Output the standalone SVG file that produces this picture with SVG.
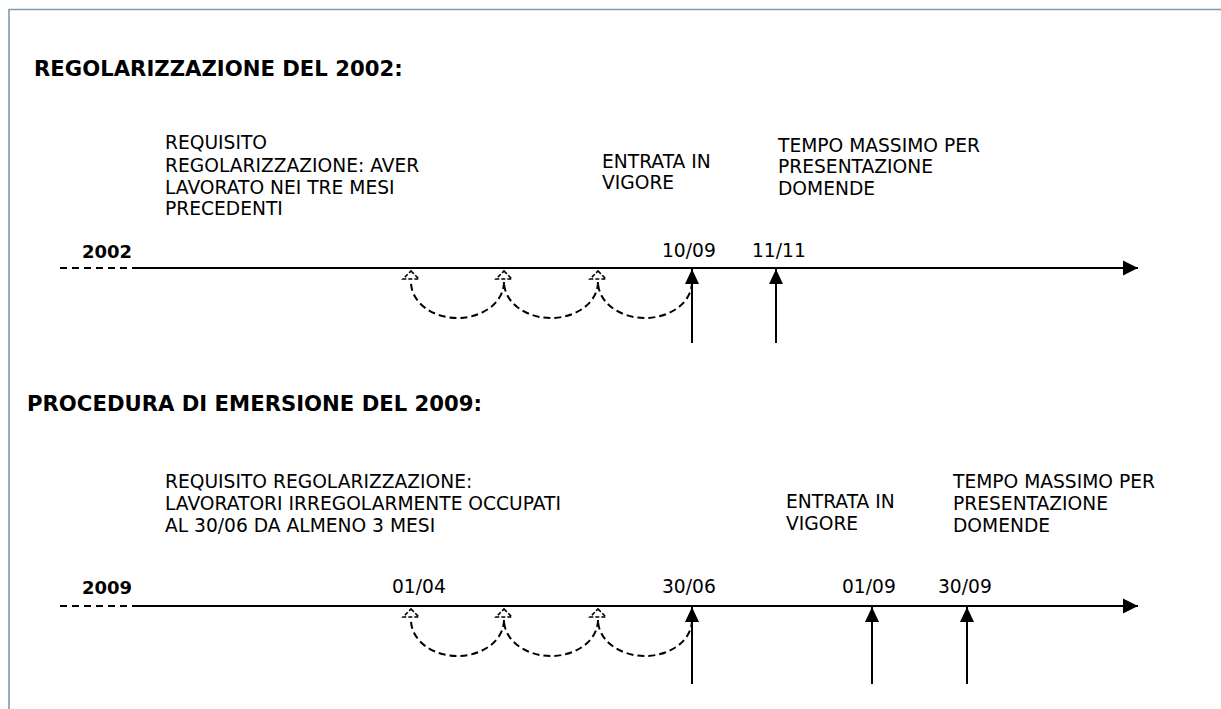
<svg xmlns="http://www.w3.org/2000/svg" width="1221" height="709" viewBox="0 0 1221 709">
  <style>
    .t { font-family: "DejaVu Sans", Verdana, sans-serif; font-size: 18.67px; fill: #000; }
    .b { font-family: "DejaVu Sans", Verdana, sans-serif; font-weight: bold; fill: #000; }
    .title { font-size: 21.2px; }
    .year { font-size: 18px; }
    .axis { stroke: #000; stroke-width: 2; fill: none; }
    .dash { stroke: #000; stroke-width: 2; fill: none; stroke-dasharray: 7 5; }
    .arc { stroke: #000; stroke-width: 2; fill: none; stroke-dasharray: 7 4; }
    .vert { stroke: #000; stroke-width: 2; fill: none; }
    .ohead { fill: #fff; stroke: #000; stroke-width: 1.6; stroke-dasharray: 4 2; }
  </style>
  <defs>
    <marker id="arrowR" markerUnits="userSpaceOnUse" markerWidth="16" markerHeight="16" viewBox="0 0 16 16" refX="15" refY="8" orient="auto">
      <path d="M0,0.5 L15,8 L0,15.5 Z" fill="#000"/>
    </marker>
    <marker id="arrowU" markerUnits="userSpaceOnUse" markerWidth="16" markerHeight="16" viewBox="0 0 16 16" refX="15" refY="8" orient="auto">
      <path d="M0,1 L15,8 L0,15 Z" fill="#000"/>
    </marker>
    <path id="ohead" class="ohead" d="M0,0 L8,8 L-8,8 Z"/>
  </defs>

  <g id="frame">
    <path d="M9,709 V9.5 H1221" fill="none" stroke="#8497b0" stroke-width="1.6"/>
  </g>

  <g id="section-2002">
    <text id="title-2002" class="b title" x="34" y="76">REGOLARIZZAZIONE DEL 2002:</text>
    <g id="req-2002">
      <text class="t" x="165" y="149">REQUISITO</text>
      <text class="t" x="165" y="172">REGOLARIZZAZIONE: AVER</text>
      <text class="t" x="165" y="194">LAVORATO NEI TRE MESI</text>
      <text class="t" x="165" y="215">PRECEDENTI</text>
    </g>
    <g id="vigore-2002">
      <text class="t" x="602" y="168">ENTRATA IN</text>
      <text class="t" x="602" y="189">VIGORE</text>
    </g>
    <g id="tempo-2002">
      <text class="t" x="778" y="152">TEMPO MASSIMO PER</text>
      <text class="t" x="778" y="173">PRESENTAZIONE</text>
      <text class="t" x="778" y="195">DOMENDE</text>
    </g>
    <text id="year-2002" class="b year" x="82" y="258">2002</text>
    <text id="d-1009" class="t" x="662" y="257">10/09</text>
    <text id="d-1111" class="t" x="752" y="257">11/11</text>
  </g>

  <g id="section-2009">
    <text id="title-2009" class="b title" x="27" y="411">PROCEDURA DI EMERSIONE DEL 2009:</text>
    <g id="req-2009">
      <text class="t" x="165" y="488">REQUISITO REGOLARIZZAZIONE:</text>
      <text class="t" x="165" y="510">LAVORATORI IRREGOLARMENTE OCCUPATI</text>
      <text class="t" x="165" y="532">AL 30/06 DA ALMENO 3 MESI</text>
    </g>
    <g id="vigore-2009">
      <text class="t" x="786" y="508">ENTRATA IN</text>
      <text class="t" x="786" y="530">VIGORE</text>
    </g>
    <g id="tempo-2009">
      <text class="t" x="953" y="488">TEMPO MASSIMO PER</text>
      <text class="t" x="953" y="510">PRESENTAZIONE</text>
      <text class="t" x="953" y="532">DOMENDE</text>
    </g>
    <text id="year-2009" class="b year" x="82" y="594">2009</text>
    <text id="d-0104" class="t" x="392" y="593">01/04</text>
    <text id="d-3006" class="t" x="662" y="593">30/06</text>
    <text id="d-0109" class="t" x="842" y="593">01/09</text>
    <text id="d-3009" class="t" x="938" y="593">30/09</text>
  </g>

  <g id="connectors">
    <!-- timeline 2002 -->
    <line class="dash" x1="60" y1="268" x2="150" y2="268"/>
    <line class="axis" x1="132" y1="268" x2="1138" y2="268" marker-end="url(#arrowR)"/>
    <line class="vert" x1="692" y1="343" x2="692" y2="269" marker-end="url(#arrowU)"/>
    <line class="vert" x1="776" y1="343" x2="776" y2="269" marker-end="url(#arrowU)"/>
    <path class="arc" d="M692,282 A47,36 0 0 1 598,282"/>
    <path class="arc" d="M598,282 A47,36 0 0 1 504,282"/>
    <path class="arc" d="M504,282 A46.5,36 0 0 1 411,282"/>
    <use href="#ohead" x="598" y="271"/>
    <use href="#ohead" x="504" y="271"/>
    <use href="#ohead" x="411" y="271"/>

    <!-- timeline 2009 -->
    <line class="dash" x1="60" y1="606" x2="150" y2="606"/>
    <line class="axis" x1="132" y1="606" x2="1138" y2="606" marker-end="url(#arrowR)"/>
    <line class="vert" x1="692" y1="684" x2="692" y2="607" marker-end="url(#arrowU)"/>
    <line class="vert" x1="872" y1="684" x2="872" y2="607" marker-end="url(#arrowU)"/>
    <line class="vert" x1="967" y1="684" x2="967" y2="607" marker-end="url(#arrowU)"/>
    <path class="arc" d="M692,620 A47,36 0 0 1 598,620"/>
    <path class="arc" d="M598,620 A47,36 0 0 1 504,620"/>
    <path class="arc" d="M504,620 A46.5,36 0 0 1 411,620"/>
    <use href="#ohead" x="598" y="609"/>
    <use href="#ohead" x="504" y="609"/>
    <use href="#ohead" x="411" y="609"/>
  </g>
</svg>
